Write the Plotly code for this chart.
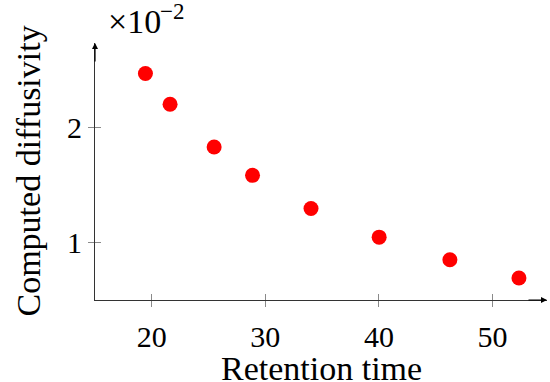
import plotly.graph_objects as go

retention_time = [19.44, 21.61, 25.49, 28.87, 34.02, 40.02, 46.25, 52.33]
diffusivity = [2.466, 2.20, 1.829, 1.584, 1.297, 1.049, 0.853, 0.696]
x_ticks = [20, 30, 40, 50]
y_ticks = [1, 2]

FONT = "Liberation Serif"
x_range = [15, 54.8]
y_range = [0.505, 2.73]

fig = go.Figure()
fig.add_trace(go.Scatter(
    x=retention_time, y=diffusivity, mode="markers",
    marker=dict(color="#ff0000", size=15, line=dict(width=0)),
    showlegend=False, cliponaxis=False,
))
fig.add_trace(go.Scatter(x=[None], y=[None], xaxis="x2", yaxis="y2", showlegend=False))

common = dict(showgrid=False, zeroline=False, tickcolor="#8a8a8a", tickwidth=1,
              ticklen=6, automargin=False)
fig.update_layout(
    width=550, height=382,
    margin=dict(l=95, r=3, t=43, b=82, autoexpand=False),
    paper_bgcolor="white", plot_bgcolor="white",
    font=dict(family=FONT, color="black"),
    xaxis=dict(range=x_range, tickvals=x_ticks, ticks="outside", showline=True,
               linecolor="#333", linewidth=1, tickfont=dict(size=30, family=FONT),
               ticklabelstandoff=4, **common),
    yaxis=dict(range=y_range, tickvals=y_ticks, ticks="outside", showline=True,
               linecolor="#333", linewidth=1, tickfont=dict(size=30, family=FONT),
               **common),
    xaxis2=dict(range=x_range, tickvals=x_ticks, ticks="inside", overlaying="x",
                showticklabels=False, showline=False, **common),
    yaxis2=dict(range=y_range, tickvals=y_ticks, ticks="inside", overlaying="y",
                showticklabels=False, showline=False, **common),
)

# axis titles
fig.add_annotation(xref="paper", yref="paper", x=0.5, y=0, yshift=-48,
                   xanchor="center", yanchor="top", showarrow=False,
                   text="Retention time", font=dict(size=34, family=FONT))
fig.add_annotation(xref="paper", yref="paper", x=0, xshift=-67, y=0.5,
                   xanchor="center", yanchor="middle", showarrow=False, textangle=-90,
                   text="Computed diffusivity", font=dict(size=34, family=FONT))

# axis arrows
fig.add_annotation(xref="paper", yref="paper", x=1.0, y=0, ax=-20, ay=0,
                   showarrow=True, arrowhead=2, arrowsize=1, arrowwidth=1.2,
                   arrowcolor="black", text="")
fig.add_annotation(xref="paper", yref="paper", x=0, y=1.0, ax=0, ay=20,
                   showarrow=True, arrowhead=2, arrowsize=1, arrowwidth=1.2,
                   arrowcolor="black", text="")
# scale factor (base and exponent)
fig.add_annotation(xref="paper", yref="paper", x=0, xshift=11, y=1.0, yshift=1,
                   xanchor="left", yanchor="bottom", showarrow=False,
                   text="×10", font=dict(size=34, family=FONT))
fig.add_annotation(xref="paper", yref="paper", x=0, xshift=63, y=1.0, yshift=17,
                   xanchor="left", yanchor="bottom", showarrow=False,
                   text="−2", font=dict(size=23, family=FONT))

fig.write_html("out.html", config={"displayModeBar": False},
               post_script="document.body.style.margin='0';document.body.style.overflow='hidden';")
